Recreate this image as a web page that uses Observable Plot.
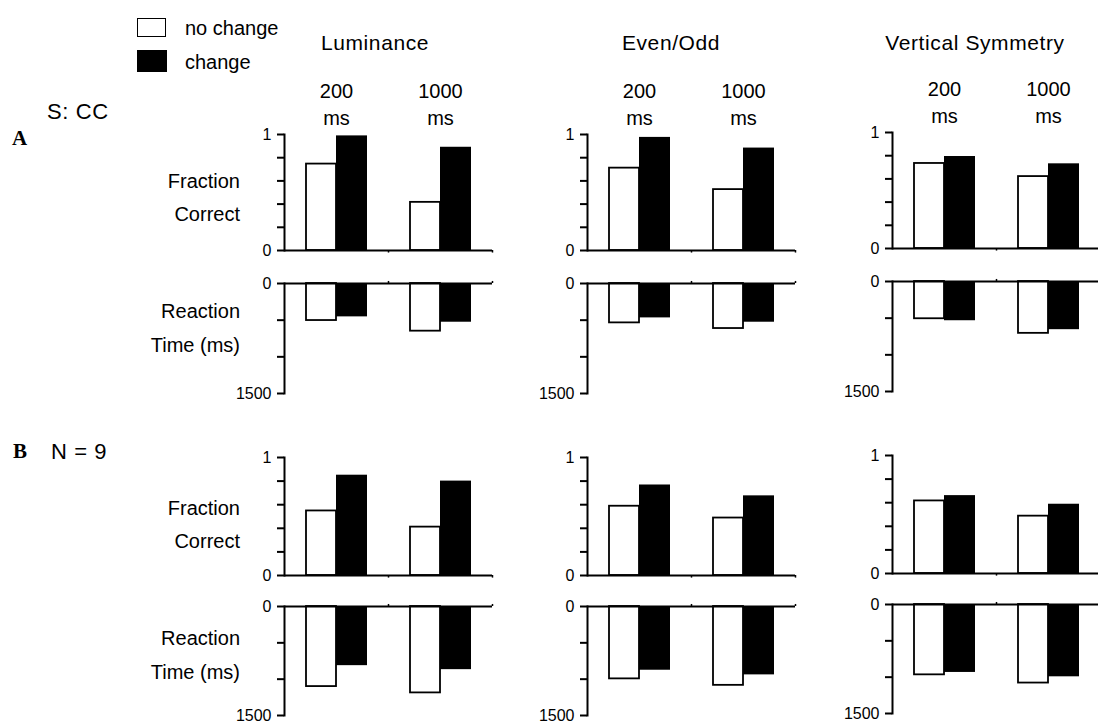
<!DOCTYPE html>
<html><head><meta charset="utf-8">
<script src="https://cdn.jsdelivr.net/npm/d3@7"></script>
<script src="https://cdn.jsdelivr.net/npm/@observablehq/plot@0.6"></script>
<style>
body{margin:0;background:#fff;}
#fig{position:relative;width:1098px;height:724px;font-family:"Liberation Sans",Arial,sans-serif;color:#000;overflow:hidden;background:#fff}
.t{position:absolute;white-space:nowrap;line-height:1;font-size:20px}
.p{position:absolute}
</style></head><body><div id="fig"></div>
<script>
// ---- data ----
const conditions = ["Luminance", "Even/Odd", "Vertical Symmetry"];
const durations = ["200", "1000"];
const seriesNames = ["no change", "change"];
const rowLetters = ["A", "B"];
const rowSubjects = ["S: CC", "N = 9"];
const accTicks = [0, 0.2, 0.4, 0.6, 0.8, 1];
const rtTicks = [0, 500, 1000, 1500];
// values ordered: Luminance 200, 1000 | Even/Odd 200, 1000 | Vertical Symmetry 200, 1000
const accA_noChange = [0.745, 0.415, 0.71, 0.525, 0.733, 0.62];
const accA_change   = [0.988, 0.89, 0.975, 0.883, 0.793, 0.73];
const rtA_noChange  = [505, 650, 537, 614, 508, 707];
const rtA_change    = [455, 528, 469, 528, 535, 657];
const accB_noChange = [0.547, 0.41, 0.587, 0.487, 0.615, 0.486];
const accB_change   = [0.85, 0.80, 0.767, 0.675, 0.66, 0.587];
const rtB_noChange  = [1102, 1189, 996, 1085, 968, 1081];
const rtB_change    = [814, 869, 877, 941, 935, 995];

// ---- layout ----
const fig = document.getElementById("fig");
const ML = 50, MR = 14, BW = 208;
const axisX = [284, 587, 892];
const colDy = [0, 0, -2];
const titleX = [375, 671, 975];
const rows = [
  {acc: [accA_noChange, accA_change], rt: [rtA_noChange, rtA_change], accTop: 134, accH: 116, rtTop: 283, rtH: 110, topAxis: true, fcDy: 5, rtDy: 0},
  {acc: [accB_noChange, accB_change], rt: [rtB_noChange, rtB_change], accTop: 457, accH: 118, rtTop: 606, rtH: 109, topAxis: false, fcDy: 8, rtDy: 4}
];
const baseStyle = {fontSize: "16px", fontFamily: "'Liberation Sans', Arial, sans-serif", color: "black", background: "transparent", overflow: "visible"};

function panelData(nc, ch, c) {
  return durations.map((d, j) => ({duration: d, noChange: nc[c * 2 + j], change: ch[c * 2 + j]}));
}

function commonMarks(data, ticks, fmt, bump) {
  return [
    Plot.barY(data, {x: "duration", y: "noChange", fill: "white", stroke: "black", strokeWidth: 1.8, insetLeft: 22, insetRight: 52}),
    Plot.barY(data, {x: "duration", y: "change", fill: "black", insetLeft: 52, insetRight: 21}),
    Plot.ruleY([0], {strokeWidth: 2}),
    Plot.frame({anchor: "left", strokeWidth: 2}),
    Plot.ruleX(durations, {x: d => d, dx: 52, y1: 0, y2: bump, strokeWidth: 1.5}),
    Plot.axisY({ticks, tickFormat: fmt, tickSize: 7, tickPadding: 6, strokeWidth: 2})
  ];
}

function accPlot(data, topAxis, h) {
  const mT = topAxis ? 70 : 8, mB = 8;
  const p = Plot.plot({
    width: ML + BW + MR, height: mT + h + mB,
    marginLeft: ML, marginRight: MR, marginTop: mT, marginBottom: mB,
    style: baseStyle,
    x: {type: "band", domain: durations, padding: 0, ...(topAxis ? {} : {axis: null})},
    y: {domain: [0, 1]},
    marks: [
      ...commonMarks(data, accTicks, d => (d === 0 || d === 1) ? String(d) : "", -0.022),
      topAxis ? Plot.axisX({anchor: "top", label: null, tickSize: 0, tickPadding: 10, fontSize: 20, lineHeight: 1.35, tickFormat: d => d + "\nms"}) : null
    ]
  });
  return {p, mT};
}

function rtPlot(data, h) {
  const mT = 8, mB = 8;
  const p = Plot.plot({
    width: ML + BW + MR, height: mT + h + mB,
    marginLeft: ML, marginRight: MR, marginTop: mT, marginBottom: mB,
    style: baseStyle,
    x: {type: "band", domain: durations, padding: 0, axis: null},
    y: {domain: [0, 1500], reverse: true},
    marks: commonMarks(data, rtTicks, d => (d === 0 || d === 1500) ? String(d) : "", -28)
  });
  return {p, mT};
}

function place(el, left, top) {
  el.classList.add("p");
  el.style.left = left + "px";
  el.style.top = top + "px";
  fig.appendChild(el);
}

function text(str, x, y, opts = {}) {
  const d = document.createElement("div");
  d.className = "t";
  d.textContent = str;
  d.style.left = x + "px";
  d.style.top = y + "px";
  const tx = opts.align === "right" ? "-100%" : opts.align === "center" ? "-50%" : "0";
  d.style.transform = `translate(${tx},-50%)`;
  if (opts.size) d.style.fontSize = opts.size + "px";
  if (opts.font) d.style.fontFamily = opts.font;
  if (opts.weight) d.style.fontWeight = opts.weight;
  if (opts.ls) d.style.letterSpacing = opts.ls + "px";
  fig.appendChild(d);
  return d;
}

rows.forEach((r, ri) => {
  conditions.forEach((cond, c) => {
    const a = accPlot(panelData(r.acc[0], r.acc[1], c), r.topAxis, r.accH);
    place(a.p, axisX[c] - ML, r.accTop + colDy[c] - a.mT);
    const t = rtPlot(panelData(r.rt[0], r.rt[1], c), r.rtH);
    place(t.p, axisX[c] - ML, r.rtTop + colDy[c] - t.mT);
  });
  const fy = r.accTop + r.accH / 2 + r.fcDy;
  text("Fraction", 240, fy - 16, {align: "right"});
  text("Correct", 240, fy + 17, {align: "right"});
  const ry = r.rtTop + 45 + r.rtDy;
  text("Reaction", 240, ry - 17, {align: "right"});
  text("Time (ms)", 240, ry + 17, {align: "right"});
});

conditions.forEach((cond, c) => text(cond, titleX[c], 42, {align: "center", size: 21, ls: 0.6}));

text(rowLetters[0], 12, 138, {font: "'Liberation Serif', 'Times New Roman', serif", weight: "bold", size: 21});
text(rowSubjects[0], 47, 112, {size: 22, ls: 0.6});
text(rowLetters[1], 13, 451, {font: "'Liberation Serif', 'Times New Roman', serif", weight: "bold", size: 21});
text(rowSubjects[1], 51, 452, {size: 22, ls: 0.6});

const sw1 = document.createElement("div");
Object.assign(sw1.style, {position: "absolute", left: "137px", top: "18px", width: "27px", height: "17px", border: "1.6px solid black", background: "white"});
fig.appendChild(sw1);
const sw2 = document.createElement("div");
Object.assign(sw2.style, {position: "absolute", left: "137px", top: "50px", width: "30px", height: "22px", background: "black"});
fig.appendChild(sw2);
text(seriesNames[0], 185, 28, {size: 20});
text(seriesNames[1], 185, 62, {size: 20});
</script></body></html>
